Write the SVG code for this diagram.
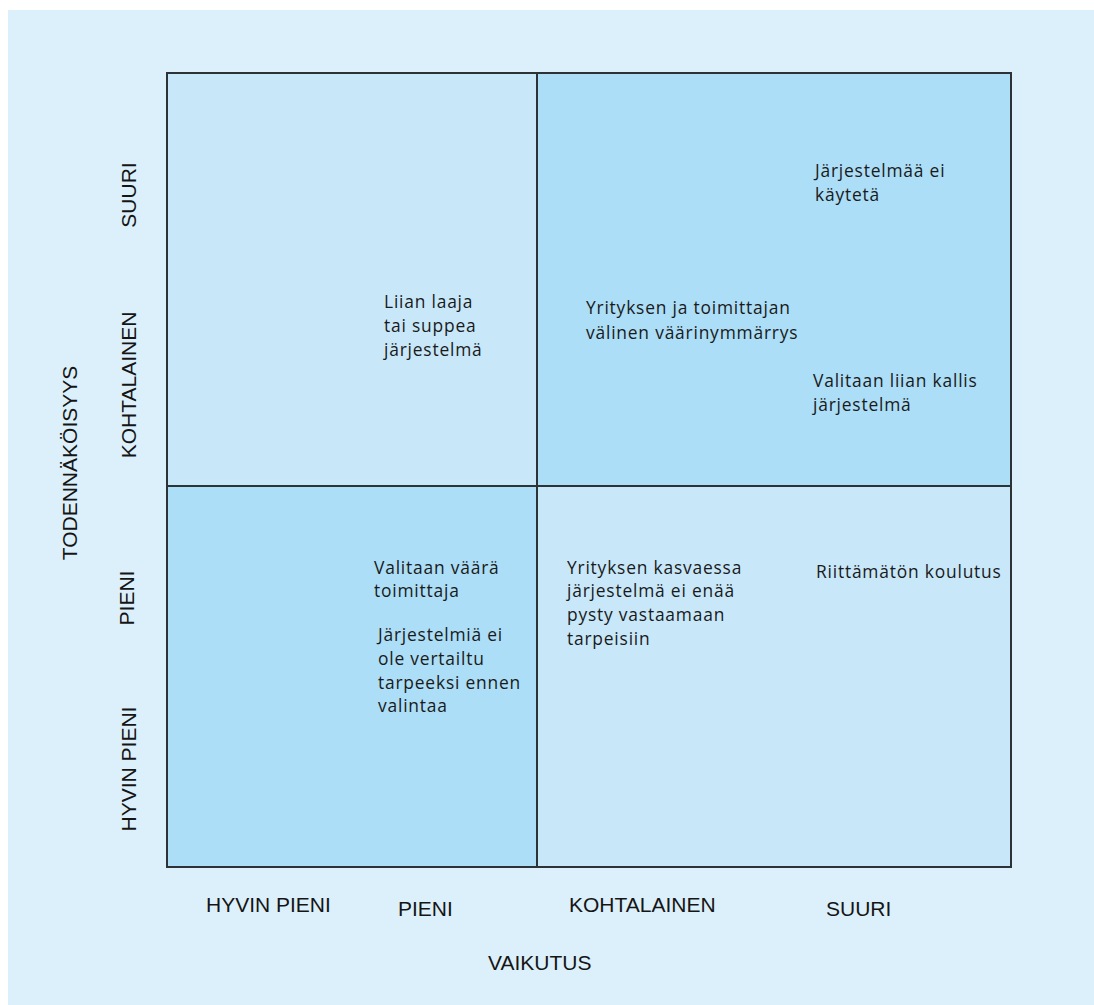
<svg xmlns="http://www.w3.org/2000/svg" width="1094" height="1005" viewBox="0 0 1094 1005">
  <style>
    .bg { fill: #dcf0fb; }
    .light { fill: #c8e8fa; }
    .dark { fill: #acdef7; }
    .cell { stroke: #2d3236; stroke-width: 2; }
    .note { font-family: "Open Sans", "Noto Sans", sans-serif; font-size: 17.4px; letter-spacing: 0.8px; fill: #1a1a1a; }
    .axis { font-family: "Liberation Sans", Arial, sans-serif; font-size: 21px; fill: #151515; }
    .mid { text-anchor: middle; }
  </style>

  <!-- page background -->
  <rect x="8" y="10" width="1086" height="995" class="bg"/>

  <!-- risk matrix quadrants -->
  <g id="quadrant-top-left">
    <rect x="167" y="73" width="370" height="413" class="light cell"/>
    <text class="note" x="384" y="308">Liian laaja</text>
    <text class="note" x="384" y="332">tai suppea</text>
    <text class="note" x="384" y="356">järjestelmä</text>
  </g>

  <g id="quadrant-top-right">
    <rect x="537" y="73" width="474" height="413" class="dark cell"/>
    <text class="note" x="815" y="177">Järjestelmää ei</text>
    <text class="note" x="815" y="201">käytetä</text>
    <text class="note" x="586" y="314">Yrityksen ja toimittajan</text>
    <text class="note" x="586" y="339">välinen väärinymmärrys</text>
    <text class="note" x="813" y="387">Valitaan liian kallis</text>
    <text class="note" x="813" y="411">järjestelmä</text>
  </g>

  <g id="quadrant-bottom-left">
    <rect x="167" y="486" width="370" height="381" class="dark cell"/>
    <text class="note" x="374" y="574">Valitaan väärä</text>
    <text class="note" x="374" y="597">toimittaja</text>
    <text class="note" x="378" y="641">Järjestelmiä ei</text>
    <text class="note" x="378" y="665">ole vertailtu</text>
    <text class="note" x="378" y="689">tarpeeksi ennen</text>
    <text class="note" x="378" y="712">valintaa</text>
  </g>

  <g id="quadrant-bottom-right">
    <rect x="537" y="486" width="474" height="381" class="light cell"/>
    <text class="note" x="567" y="574">Yrityksen kasvaessa</text>
    <text class="note" x="567" y="597">järjestelmä ei enää</text>
    <text class="note" x="567" y="621">pysty vastaamaan</text>
    <text class="note" x="567" y="645">tarpeisiin</text>
    <text class="note" x="816" y="578">Riittämätön koulutus</text>
  </g>

  <!-- no connectors in this chart -->
  <g id="connectors"/>

  <!-- probability axis (vertical) -->
  <g id="axis-probability">
    <text class="axis mid" transform="translate(77,463) rotate(-90)">TODENNÄKÖISYYS</text>
    <text class="axis mid" transform="translate(136,195) rotate(-90)">SUURI</text>
    <text class="axis mid" transform="translate(136,385) rotate(-90)">KOHTALAINEN</text>
    <text class="axis mid" transform="translate(134,598) rotate(-90)">PIENI</text>
    <text class="axis mid" transform="translate(136,769) rotate(-90)">HYVIN PIENI</text>
  </g>

  <!-- impact axis (horizontal) -->
  <g id="axis-impact">
    <text class="axis" x="206" y="912">HYVIN PIENI</text>
    <text class="axis" x="398" y="916">PIENI</text>
    <text class="axis" x="569" y="912">KOHTALAINEN</text>
    <text class="axis" x="826" y="916">SUURI</text>
    <text class="axis" x="488" y="970">VAIKUTUS</text>
  </g>
</svg>
